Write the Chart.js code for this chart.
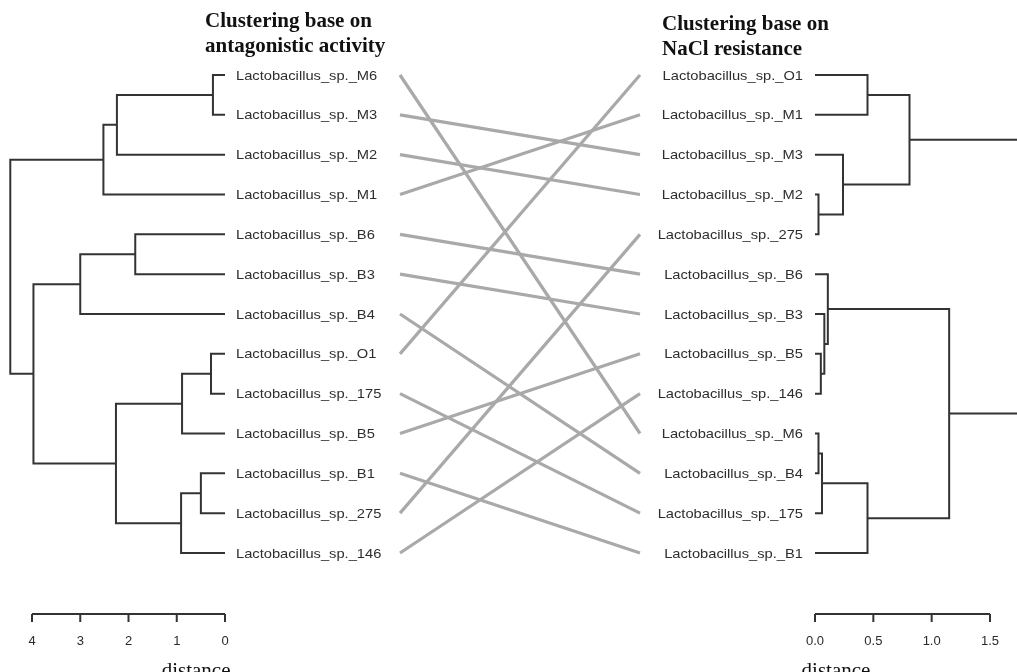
<!DOCTYPE html>
<html>
<head>
<meta charset="utf-8">
<script src="https://cdn.jsdelivr.net/npm/chart.js@4.4.0/dist/chart.umd.min.js"></script>
<style>
  html, body { margin: 0; padding: 0; background: #fff; }
</style>
</head>
<body>
<canvas id="tangle" width="1017" height="672"></canvas>
<script>
// ================= DATA =================
const labelPrefix = 'Lactobacillus_sp._';
const leftLeaves  = ['M6', 'M3', 'M2', 'M1', 'B6', 'B3', 'B4', 'O1', '175', 'B5', 'B1', '275', '146'];
const rightLeaves = ['O1', 'M1', 'M3', 'M2', '275', 'B6', 'B3', 'B5', '146', 'M6', 'B4', '175', 'B1'];

// merges as in R hclust: negative = leaf (1-based, in plotted order), positive = earlier merge
const leftMerge  = [[-1,-2],[1,-3],[2,-4],[-5,-6],[4,-7],[-8,-9],[6,-10],[-11,-12],[8,-13],[7,9],[5,10],[3,11]];
const leftHeight = [0.25, 2.24, 2.52, 1.86, 3.0, 0.29, 0.89, 0.5, 0.91, 2.26, 3.97, 4.45];
const rightMerge  = [[-1,-2],[-4,-5],[-3,2],[1,3],[-8,-9],[-7,5],[-6,6],[-10,-11],[8,-12],[9,-13],[7,10],[4,11]];
const rightHeight = [0.45, 0.03, 0.24, 0.81, 0.05, 0.08, 0.11, 0.03, 0.06, 0.45, 1.15, 1.9];

const leftTicks  = [4, 3, 2, 1, 0];
const rightTicks = [0, 0.5, 1, 1.5];
const leftTitle  = ['Clustering base on', 'antagonistic activity'];
const rightTitle = ['Clustering base on', 'NaCl resistance'];
const axisTitle  = 'distance';

// ================= LAYOUT =================
const W = 1017, H = 672;

// value range of a scale so that v0 lands on pixel p0 and v1 on p1
function fitRange(p0, v0, p1, v1, size){
    const k = (p1 - p0) / (v1 - v0);
    const a = v0 - p0 / k, b = v0 + (size - p0) / k;
    return { min: Math.min(a, b), max: Math.max(a, b), k: k };
}

const rL = fitRange(225, 0, 32, 4, W);       // left tree, grows to the left
const rR = fitRange(815, 0, 990, 1.5, W);    // right tree, grows to the right
const rLink = fitRange(400, 0, 640, 1, W);   // connecting lines
const rY = fitRange(75, 0, 553, 12, H);      // leaf rows, top to bottom

const treeStyle = {
    borderColor: '#333333', borderWidth: 2, pointRadius: 0,
    showLine: true, tension: 0, fill: false, borderJoinStyle: 'miter'
};
const linkStyle = {
    borderColor: '#a9a9a9', borderWidth: 3.2, pointRadius: 0,
    showLine: true, tension: 0, fill: false
};

function dendroSets(merge, height, axisId){
    let nodes = [];
    const get = ref => ref < 0 ? { h: 0, y: -ref - 1 } : nodes[ref - 1];
    return merge.map((m, i) => {
        const a = get(m[0]), b = get(m[1]), h = height[i];
        nodes.push({ h: h, y: (a.y + b.y) / 2 });
        return Object.assign({
            xAxisID: axisId,
            data: [{x: a.h, y: a.y}, {x: h, y: a.y}, {x: h, y: b.y}, {x: b.h, y: b.y}]
        }, treeStyle);
    });
}

const linkSets = leftLeaves.map((name, i) => Object.assign({
    xAxisID: 'xLink',
    data: [{x: 0, y: i}, {x: 1, y: rightLeaves.indexOf(name)}]
}, linkStyle));

// ================= TEXT + AXES =================
function stretchText(ctx, text, x, y, align, sx){
    ctx.save();
    ctx.translate(x, y);
    ctx.scale(sx, 1);
    ctx.textAlign = align;
    ctx.fillText(text, 0, 0);
    ctx.restore();
}

function drawAxis(ctx, scale, ticks, fmt){
    const y0 = 614;
    ctx.strokeStyle = '#333333';
    ctx.lineWidth = 2;
    ctx.beginPath();
    ctx.moveTo(scale.getPixelForValue(ticks[0]), y0);
    ctx.lineTo(scale.getPixelForValue(ticks[ticks.length - 1]), y0);
    ticks.forEach(t => {
        const px = scale.getPixelForValue(t);
        ctx.moveTo(px, y0);
        ctx.lineTo(px, y0 + 8);
    });
    ctx.stroke();
    ctx.fillStyle = '#2a2a2a';
    ctx.font = '13px "Liberation Sans", Arial, sans-serif';
    ctx.textAlign = 'center';
    ctx.textBaseline = 'middle';
    ticks.forEach(t => ctx.fillText(fmt(t), scale.getPixelForValue(t), 641));
}

const decorations = {
    id: 'decorations',
    afterDatasetsDraw(chart){
        const ctx = chart.ctx, s = chart.scales;
        ctx.save();

        // leaf labels
        ctx.fillStyle = '#2e2e2e';
        ctx.font = '13px "Liberation Sans", Arial, sans-serif';
        ctx.textBaseline = 'middle';
        leftLeaves.forEach((n, i) =>
            stretchText(ctx, labelPrefix + n, s.xL.getPixelForValue(0) + 11, s.y.getPixelForValue(i) + 1, 'left', 1.13));
        rightLeaves.forEach((n, i) =>
            stretchText(ctx, labelPrefix + n, s.xR.getPixelForValue(0) - 12, s.y.getPixelForValue(i) + 1, 'right', 1.13));

        // titles
        ctx.fillStyle = '#111111';
        ctx.font = 'bold 21px "Liberation Serif", "Times New Roman", serif';
        ctx.textAlign = 'left';
        ctx.textBaseline = 'alphabetic';
        leftTitle.forEach((t, i) => ctx.fillText(t, 205, 27 + i * 25));
        rightTitle.forEach((t, i) => ctx.fillText(t, 662, 30 + i * 25));

        // distance axes
        drawAxis(ctx, s.xL, leftTicks, t => String(t));
        drawAxis(ctx, s.xR, rightTicks, t => t.toFixed(1));

        ctx.fillStyle = '#111111';
        ctx.font = '21px "Liberation Serif", "Times New Roman", serif';
        ctx.textAlign = 'center';
        ctx.textBaseline = 'alphabetic';
        ctx.fillText(axisTitle, s.xL.getPixelForValue(0.6), 677);
        ctx.fillText(axisTitle, s.xR.getPixelForValue(0.18), 677);

        ctx.restore();
    }
};

// ================= CHART =================
const hidden = { display: false };
new Chart(document.getElementById('tangle'), {
    type: 'scatter',
    data: {
        datasets: [].concat(
            dendroSets(leftMerge, leftHeight, 'xL'),
            dendroSets(rightMerge, rightHeight, 'xR'),
            linkSets
        )
    },
    options: {
        responsive: false,
        animation: false,
        layout: { padding: 0 },
        plugins: { legend: hidden, title: hidden, tooltip: { enabled: false } },
        scales: {
            xL:    { type: 'linear', axis: 'x', position: 'bottom', min: rL.min, max: rL.max, reverse: rL.k < 0, display: false },
            xR:    { type: 'linear', axis: 'x', position: 'bottom', min: rR.min, max: rR.max, reverse: rR.k < 0, display: false },
            xLink: { type: 'linear', axis: 'x', position: 'bottom', min: rLink.min, max: rLink.max, display: false },
            y:     { type: 'linear', min: rY.min, max: rY.max, reverse: rY.k > 0, display: false }
        }
    },
    plugins: [decorations]
});
</script>
</body>
</html>
